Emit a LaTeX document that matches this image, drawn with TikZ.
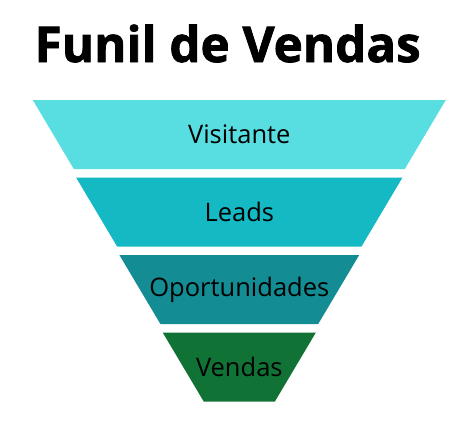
\documentclass[tikz,border=0pt]{standalone}
\usepackage{fontspec}
\setmainfont{Open Sans}
\newfontfamily\titulofont[FakeBold=1.6]{Open Sans Bold}
\definecolor{funilA}{HTML}{58DDE0}
\definecolor{funilB}{HTML}{14B9C4}
\definecolor{funilC}{HTML}{138C93}
\definecolor{funilD}{HTML}{117236}

\begin{document}
\begin{tikzpicture}[x=1pt,y=-1pt]
  \useasboundingbox (0,0) rectangle (468,423);

  % Title
  \node[font=\titulofont\fontsize{49.3}{58}\selectfont, anchor=base west, inner sep=0pt] (titulo) at (34.5,62) {Funil de Vendas};

  % Funnel layers
  \foreach \i/\nome/\cor in {0/Visitante/funilA,1/Leads/funilB,2/Oportunidades/funilC,3/Vendas/funilD}{
    \pgfmathsetmacro{\ytop}{100+77.5*\i}
    \pgfmathsetmacro{\ybot}{\ytop+69}
    \pgfmathsetmacro{\wtop}{206.5-43.3*\i}
    \pgfmathsetmacro{\wbot}{\wtop-41}
    \fill[\cor] (239.3-\wtop,\ytop) -- (239.3+\wtop,\ytop) -- (239.3+\wbot,\ybot) -- (239.3-\wbot,\ybot) -- cycle;
    \node[font=\fontsize{25.5}{30}\selectfont] (etapa\i) at (239.3,\ytop+34.5) {\nome};
  }
\end{tikzpicture}
\end{document}
